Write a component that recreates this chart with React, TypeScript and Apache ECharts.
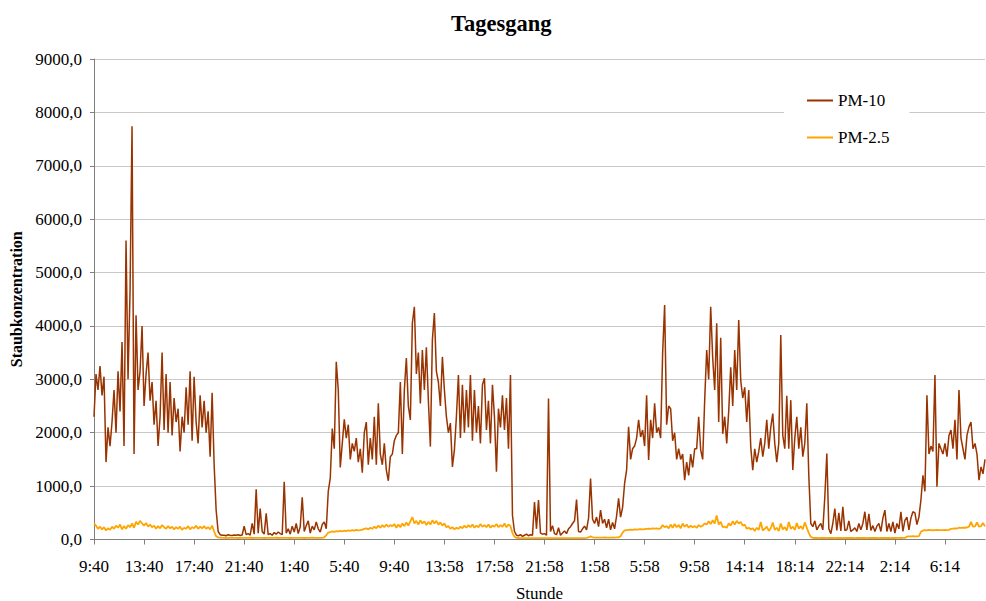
import React, { useEffect, useRef } from 'react';
import * as echarts from 'echarts';

const tickLabels = ['9:40', '13:40', '17:40', '21:40', '1:40', '5:40', '9:40', '13:58', '17:58', '21:58', '1:58', '5:58', '9:58', '14:14', '18:14', '22:14', '2:14', '6:14'];
const pointsPerTick = 25;

const pm10 = [
  2300, 3100, 2800, 3250, 2700, 3050, 1450, 2100, 1750, 2200,
  2800, 2000, 3150, 2400, 3700, 1750, 5600, 3000, 4650, 7740,
  1600, 4200, 2800, 3150, 4000, 2500, 3100, 3500, 2600, 2950,
  2150, 2600, 1750, 2300, 3500, 2050, 3100, 2000, 2950, 1950,
  2650, 2200, 2450, 1650, 2300, 2000, 2850, 2150, 3150, 1850,
  3050, 2200, 1800, 2700, 2100, 2600, 2000, 2400, 1550, 2750,
  1400, 550, 150, 90, 80, 80, 70, 90, 80, 75,
  85, 80, 90, 75, 85, 250, 90, 110, 80, 300,
  100, 940, 120, 580, 150, 100, 490, 90, 110, 80,
  130, 100, 140, 110, 90, 1080, 120, 200, 100, 250,
  140, 300, 110, 240, 790, 150, 260, 350, 120, 250,
  180, 330, 200, 140, 280, 330, 200, 900, 1150, 2080,
  1700, 3330, 2800, 1350, 1800, 2250, 1900, 2150, 1500, 1800,
  1650, 1900, 1450, 1700, 1250, 2000, 2200, 1400, 1900, 1500,
  2300, 1400, 2550, 1600, 1400, 1800, 1300, 1100, 1550, 1600,
  1850, 1950, 2000, 2950, 1600, 2800, 3400, 2500, 2240, 4050,
  4360, 3100, 3500, 2550, 3550, 2800, 3600, 2600, 1740, 3740,
  4240, 3150, 2950, 2500, 3420, 2800, 2300, 2000, 2180, 1360,
  1680, 2300, 3080, 1900, 2900, 2000, 2800, 2100, 3080, 1850,
  2800, 2000, 2500, 1800, 2900, 3020, 2050, 2600, 1800, 2900,
  2300, 1270, 2450, 2100, 2700, 2050, 2650, 1700, 3080, 450,
  150, 80, 70, 90, 60, 80, 100, 70, 90, 80,
  700, 200, 740, 120, 100, 110, 80, 2640, 150, 260,
  110, 90, 220, 80, 120, 160, 110, 200, 240, 300,
  350, 750, 150, 140, 200, 250, 180, 400, 1140, 380,
  300, 420, 240, 550, 300, 380, 220, 380, 180, 320,
  200, 440, 770, 420, 600, 1050, 1300, 2110, 1500, 1700,
  1750, 1900, 2240, 1920, 2050, 1750, 2700, 1490, 2240, 1900,
  2550, 2000, 2100, 1900, 3490, 4390, 2150, 2500, 2450, 1850,
  2000, 1500, 1700, 1500, 1600, 1110, 1450, 1200, 1600, 1350,
  1700, 1700, 2300, 1680, 1500, 2610, 3550, 3000, 4360, 3400,
  2800, 4050, 2200, 3780, 1980, 2300, 1800, 2400, 3225, 2500,
  3550, 2800, 4110, 2980, 2650, 2850, 2200, 2800, 1740, 1300,
  1700, 1450, 1650, 1900, 1550, 1800, 2240, 1700, 2100, 2360,
  1800, 1450, 1800, 3830, 1950, 1700, 2690, 1700, 2610, 1300,
  1900, 2300, 1700, 2100, 1550, 1800, 2550, 1200, 300, 240,
  350, 180, 250, 300, 180, 800, 1610, 200, 110, 300,
  580, 170, 500, 160, 610, 170, 180, 350, 150, 180,
  220, 150, 300, 180, 300, 520, 180, 480, 170, 260,
  150, 250, 300, 150, 400, 550, 150, 300, 150, 330,
  120, 300, 200, 520, 150, 360, 420, 180, 400, 520,
  500, 280, 420, 740, 1200, 900, 2700, 1600, 1750, 1650,
  3080, 990, 1800, 1700, 1600, 1800, 1550, 1950, 2050, 1700,
  2240, 1500, 2800, 1900, 1700, 1500, 1950, 2110, 2200, 1700,
  1800, 1600, 1110, 1360, 1230, 1500,
];

const pm25 = [
  300, 260, 200, 240, 190, 230, 170, 210, 180, 240,
  200, 260, 220, 280, 190, 250, 200, 270, 230, 300,
  220, 330, 280, 350, 300, 260, 310, 240, 280, 230,
  260, 200, 250, 210, 270, 230, 200, 250, 210, 240,
  190, 230, 200, 240, 180, 220, 200, 250, 190, 230,
  210, 260, 200, 240, 210, 250, 200, 230, 190, 260,
  150, 60, 40, 35, 30, 32, 28, 30, 33, 29,
  31, 30, 28, 32, 30, 29, 31, 30, 33, 28,
  30, 32, 29, 31, 30, 28, 32, 30, 29, 31,
  30, 33, 28, 30, 31, 29, 30, 32, 28, 30,
  31, 29, 30, 32, 30, 28, 31, 30, 29, 33,
  30, 31, 29, 32, 30, 40, 80, 130, 140, 150,
  145, 155, 150, 160, 150, 165, 155, 170, 160, 175,
  165, 180, 170, 175, 185, 200, 210, 190, 220, 200,
  240, 210, 260, 220, 270, 230, 280, 240, 270, 250,
  290, 220, 280, 230, 300, 250, 320, 260, 340, 420,
  300, 350, 280, 360, 300, 340, 270, 330, 280, 360,
  300, 350, 280, 320, 260, 300, 230, 250, 200, 230,
  190, 220, 200, 240, 210, 260, 220, 270, 230, 280,
  220, 260, 230, 290, 240, 270, 230, 280, 220, 260,
  240, 290, 230, 270, 240, 300, 230, 280, 250, 120,
  50, 30, 28, 26, 25, 27, 25, 24, 26, 25,
  27, 25, 24, 26, 25, 27, 25, 26, 24, 25,
  26, 25, 27, 24, 25, 26, 25, 27, 25, 26,
  25, 27, 24, 26, 25, 27, 30, 40, 60, 38,
  35, 37, 34, 36, 35, 38, 34, 36, 35, 37,
  36, 38, 40, 60, 130, 170, 175, 180, 185, 180,
  190, 185, 190, 195, 190, 195, 200, 205, 200, 210,
  205, 210, 200, 210, 270, 230, 250, 210, 280, 220,
  290, 230, 270, 210, 300, 240, 280, 220, 260, 230,
  250, 220, 270, 240, 260, 300, 280, 340, 290, 360,
  300, 450, 280, 330, 230, 240, 220, 300, 260, 340,
  280, 350, 300, 330, 260, 280, 200, 220, 190, 210,
  160, 220, 180, 330, 170, 200, 240, 160, 210, 320,
  180, 220, 160, 300, 190, 230, 170, 330, 200, 240,
  180, 310, 200, 250, 190, 320, 220, 120, 50, 30,
  28, 30, 27, 29, 28, 30, 27, 29, 28, 30,
  27, 29, 28, 30, 27, 29, 28, 30, 28, 29,
  27, 30, 28, 29, 28, 30, 27, 29, 28, 30,
  28, 29, 27, 30, 28, 29, 28, 30, 27, 29,
  28, 30, 29, 28, 30, 29, 55, 60, 58, 62,
  60, 58, 62, 145, 170, 175, 172, 178, 175, 173,
  176, 178, 175, 177, 174, 178, 176, 180, 200, 205,
  208, 206, 220, 218, 222, 220, 225, 240, 330, 240,
  245, 320, 240, 250, 310, 245,
];

const seriesNames = ['PM-10', 'PM-2.5'];
const seriesColors = ['#993300', '#FFA500'];

const FONT = 'Liberation Serif';

export default function App() {
  const ref = useRef<HTMLDivElement>(null);
  useEffect(() => {
    if (!ref.current) return;
    const chart = echarts.init(ref.current, null, { renderer: 'svg' });
    const categories = pm10.map((_, i) => String(i));
    chart.setOption({
      animation: false,
      backgroundColor: '#ffffff',
      title: {
        text: 'Tagesgang',
        left: 451,
        top: 12,
        padding: 0,
        textStyle: { fontFamily: FONT, fontSize: 22.5, fontWeight: 'bold', color: '#000' },
      },
      legend: {
        orient: 'vertical',
        left: 784,
        top: 80,
        padding: [12, 20, 12, 23],
        icon: 'rect',
        itemWidth: 26,
        itemHeight: 2,
        itemGap: 20,
        backgroundColor: '#ffffff',
        textStyle: { fontFamily: FONT, fontSize: 17, color: '#000' },
        data: seriesNames,
      },
      grid: { left: 94, right: 1, top: 59, bottom: 61.5, containLabel: false, outerBoundsMode: 'none' },
      xAxis: {
        type: 'category',
        data: categories,
        boundaryGap: false,
        name: 'Stunde',
        nameLocation: 'middle',
        nameGap: 45,
        nameTextStyle: { fontFamily: FONT, fontSize: 17, color: '#000' },
        axisLine: { lineStyle: { color: '#808080', width: 1 } },
        axisTick: { show: true, interval: pointsPerTick - 1, length: 5, lineStyle: { color: '#808080' } },
        axisLabel: {
          interval: pointsPerTick - 1,
          margin: 18,
          fontFamily: FONT,
          fontSize: 17,
          color: '#000',
          formatter: (_v: string, idx: number) => (idx % pointsPerTick === 0 ? tickLabels[idx / pointsPerTick] ?? '' : ''),
        },
        splitLine: { show: false },
      },
      yAxis: {
        type: 'value',
        min: 0,
        max: 9000,
        interval: 1000,
        name: 'Staubkonzentration',
        nameLocation: 'middle',
        nameGap: 59,
        nameTextStyle: { fontFamily: FONT, fontSize: 16, fontWeight: 'bold', color: '#000' },
        axisLine: { show: true, lineStyle: { color: '#808080', width: 1 } },
        axisTick: { show: true, length: 4, lineStyle: { color: '#808080' } },
        axisLabel: {
          margin: 12,
          fontFamily: FONT,
          fontSize: 17,
          color: '#000',
          formatter: (v: number) => v.toFixed(1).replace('.', ','),
        },
        splitLine: { show: true, lineStyle: { color: '#c8c8c8', width: 1 } },
      },
      series: [
        {
          name: seriesNames[0],
          type: 'line',
          data: pm10,
          symbol: 'none',
          color: seriesColors[0],
          lineStyle: { color: seriesColors[0], width: 1.5 },
        },
        {
          name: seriesNames[1],
          type: 'line',
          data: pm25,
          symbol: 'none',
          color: seriesColors[1],
          lineStyle: { color: seriesColors[1], width: 1.8 },
        },
      ],
    });
    return () => chart.dispose();
  }, []);
  return (
    <div
      ref={ref}
      style={{ position: 'fixed', left: 0, top: 0, width: 986, height: 601, background: '#fff' }}
    />
  );
}
